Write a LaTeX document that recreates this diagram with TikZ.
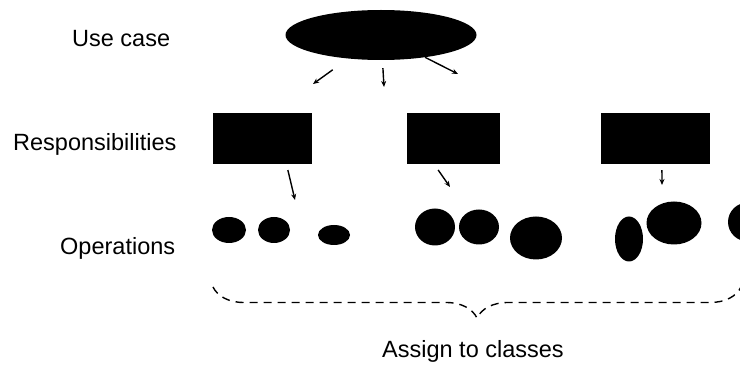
\documentclass[tikz,border=0pt]{standalone}
\usepackage{fontspec}
\setmainfont{Liberation Sans}
\usetikzlibrary{shapes.geometric, arrows.meta, positioning, decorations.pathreplacing}

\begin{document}
\begin{tikzpicture}[
        x=1pt, y=-1pt,
        rowlabel/.style={anchor=base west, inner sep=0pt, font=\fontsize{23.5}{28}\selectfont},
        casebox/.style={ellipse, fill=black, minimum width=191pt, minimum height=50pt, inner sep=0pt},
        respbox/.style={rectangle, fill=black, minimum height=51pt, inner sep=0pt},
        opdot/.style={ellipse, fill=black, inner sep=0pt},
        arrow/.style={-{Stealth[length=6pt, width=5pt]}, line width=1.4pt, draw=black},
        bracket/.style={dash pattern=on 8pt off 6pt, line width=1.4pt, decorate, decoration={brace, mirror, amplitude=31pt}}
    ]
    \useasboundingbox (0,0) rectangle (740,366);

    % The row labels
    \node (lblcase) [rowlabel] at (72,47) {Use case};
    \node (lblresp) [rowlabel] at (13,151) {Responsibilities};
    \node (lblops) [rowlabel] at (60,255) {Operations};

    % The use case and its responsibilities
    \node (usecase) [casebox] at (381,35) {};
    \node (resp1) [respbox, minimum width=99pt] at (262.5,138.5) {};
    \node (resp2) [respbox, minimum width=93pt] at (453.5,138.5) {};
    \node (resp3) [respbox, minimum width=109pt] at (655.5,138.5) {};

    % The operations
    \node (op1) [opdot, minimum width=34pt, minimum height=26pt] at (229,230) {};
    \node (op2) [opdot, minimum width=32pt, minimum height=26pt] at (274,230) {};
    \node (op3) [opdot, minimum width=32pt, minimum height=20pt] at (334,235) {};
    \node (op4) [opdot, minimum width=40pt, minimum height=37pt] at (435,227) {};
    \node (op5) [opdot, minimum width=40pt, minimum height=35pt] at (479,227) {};
    \node (op6) [opdot, minimum width=52pt, minimum height=43pt] at (536,238) {};
    \node (op7) [opdot, minimum width=28pt, minimum height=45pt] at (629,239) {};
    \node (op8) [opdot, minimum width=55pt, minimum height=43pt] at (674,223) {};
    \node (op9) [opdot, minimum width=40pt, minimum height=39pt] at (748,222) {};

    % The arrow ends
    \coordinate (h1) at (313,84);
    \coordinate (h2) at (384,87);
    \coordinate (h3) at (458,74);
    \coordinate (h4) at (295,200);
    \coordinate (h5) at (450,187);
    \coordinate (h6) at (662,185);

    % The short arrows
    \draw [arrow, shorten <=19pt] (usecase) -- (h1);
    \draw [arrow, shorten <=8pt] (usecase) -- (h2);
    \draw [arrow] (usecase) -- (h3);
    \draw [arrow, shorten <=6pt] (resp1.313) -- (h4);
    \draw [arrow, shorten <=7pt] (resp2.233) -- (h5);
    \draw [arrow, shorten <=6pt] (resp3.284) -- (h6);

    % The brace over all operations
    \coordinate (brl) at (213,287);
    \coordinate (brr) at (741,287);
    \draw [bracket] (brl) -- (brr);
    \node (assign) [rowlabel] at (382,358) {Assign to classes};

\end{tikzpicture}
\end{document}
